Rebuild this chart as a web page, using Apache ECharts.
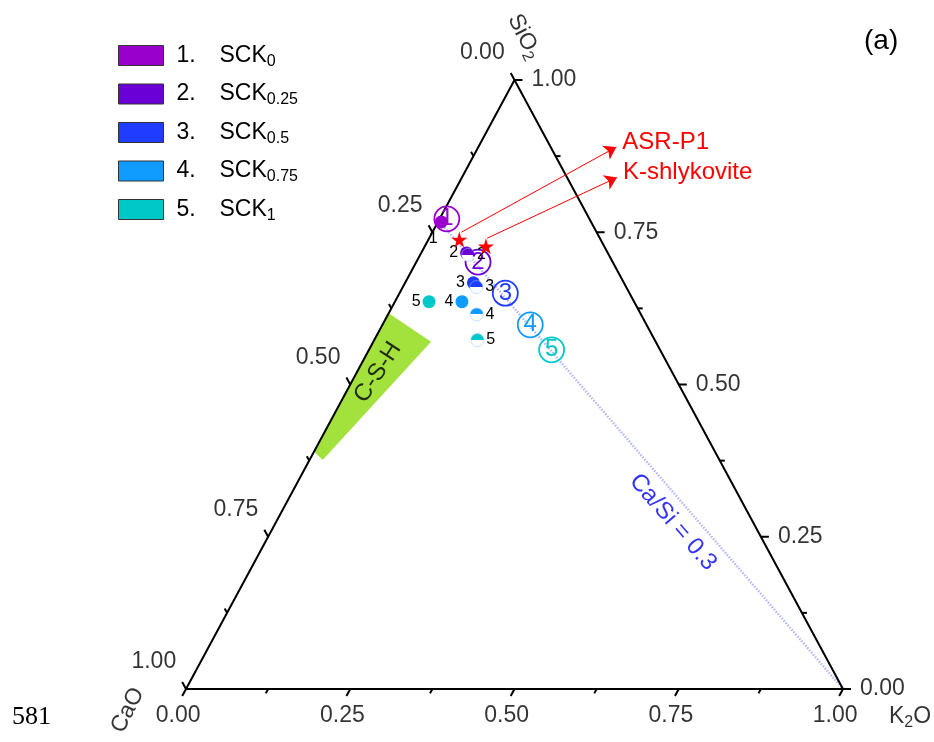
<!DOCTYPE html>
<html>
<head>
<meta charset="utf-8">
<script src="https://cdn.jsdelivr.net/npm/echarts@6/dist/echarts.min.js"></script>
<style>
    html, body { margin: 0; padding: 0; background: #fff; }
    #chart { width: 934px; height: 742px; }
</style>
</head>
<body>
<div id="chart"></div>
<script>
// all ternary points are [CaO, SiO2, K2O]
const sampleNames = ['SCK0', 'SCK0.25', 'SCK0.5', 'SCK0.75', 'SCK1'];
const sampleSubs = ['0', '0.25', '0.5', '0.75', '1'];
const sampleColors = ['#9900cc', '#6a00d6', '#1f3cff', '#0f9bff', '#00c8c8'];

const solidPoints = [
    [0.228, 0.767, 0.005],
    [0.215, 0.716, 0.069],
    [0.229, 0.667, 0.104],
    [0.262, 0.636, 0.102],
    [0.312, 0.636, 0.052]
];
const halfPoints = [
    null,
    [0.214, 0.713, 0.073],
    [0.228, 0.660, 0.112],
    [0.250, 0.615, 0.135],
    [0.270, 0.573, 0.157]
];
const circledPoints = [
    [0.217, 0.772, 0.011],
    [0.205, 0.701, 0.094],
    [0.189, 0.650, 0.161],
    [0.177, 0.598, 0.225],
    [0.165, 0.557, 0.278]
];

const refNames = ['ASR-P1', 'K-shlykovite'];
const refPoints = [[0.215, 0.738, 0.047], [0.180, 0.727, 0.093]];
const arrowStarts = [[0.206, 0.750, 0.044], [0.172, 0.740, 0.088]];
const arrowTips = [[-0.100, 0.890, 0.210], [-0.076, 0.840, 0.236]];

const caSiLine = [[0.231, 0.769, 0], [0, 0, 1]];
const cshPolygon = [[0.383, 0.617, 0], [0.342, 0.570, 0.088], [0.604, 0.376, 0.020], [0.610, 0.390, 0]];

const tickValues = [0, 0.25, 0.5, 0.75, 1];
const minorTickValues = [0.125, 0.375, 0.625, 0.875];

const FONT = 'Liberation Sans, Arial, sans-serif';

// ternary -> cartesian data coords (base = K2O axis, height = SiO2)
function tern(p) {
    return [p[2] + p[1] / 2, p[1]];
}

// tick segments, lengths in data units
const tMaj = 0.0116, tMin = 0.0072, rMaj = 0.0122, rMin = 0.0076;
const tickSegs = [];
const bottomEnds = [], rightEnds = [], leftEnds = [];
tickValues.concat(minorTickValues).forEach(function (v) {
    const major = tickValues.indexOf(v) >= 0;
    const t = major ? tMaj : tMin;
    const r = major ? rMaj : rMin;
    // K2O (bottom)
    tickSegs.push([v, 0, v - t / 2, -t]);
    // SiO2 (right)
    tickSegs.push([1 - v / 2, v, 1 - v / 2 + r, v]);
    // CaO (left)
    tickSegs.push([(1 - v) / 2, 1 - v, (1 - v) / 2 - t / 2, 1 - v + t]);
    if (major) {
        bottomEnds.push({ value: [v - t / 2, -t], txt: v.toFixed(2) });
        rightEnds.push({ value: [1 - v / 2 + r, v], txt: v.toFixed(2) });
        leftEnds.push({ value: [(1 - v) / 2 - t / 2, 1 - v + t], txt: v.toFixed(2) });
    }
});

const myChart = echarts.init(document.getElementById('chart'));

function halfFill(c) {
    return new echarts.graphic.LinearGradient(0, 0, 0, 1, [
        { offset: 0, color: c },
        { offset: 0.5, color: c },
        { offset: 0.5, color: '#fff' },
        { offset: 1, color: '#fff' }
    ]);
}

const smallLabel = { color: '#000', fontSize: 16, fontFamily: FONT };

const sampleSeries = sampleNames.map(function (name, i) {
    const col = sampleColors[i];
    const items = [];
    items.push({
        value: tern(circledPoints[i]),
        symbol: 'circle',
        symbolSize: 25,
        itemStyle: { color: 'rgba(255,255,255,0)', borderColor: col, borderWidth: 1.8, opacity: 1 },
        label: {
            show: true, position: 'inside', formatter: String(i + 1),
            color: col, fontSize: 24, fontFamily: FONT
        }
    });
    items.push({
        value: tern(solidPoints[i]),
        symbol: 'circle',
        symbolSize: 13,
        itemStyle: { color: col, opacity: 1 },
        label: i === 0 ? Object.assign({
            show: true, position: 'bottom', distance: 2, offset: [-8, 0], formatter: '1'
        }, smallLabel) : Object.assign({
            show: true, position: 'left', distance: 2, formatter: String(i + 1)
        }, smallLabel)
    });
    if (halfPoints[i]) {
        items.push({
            value: tern(halfPoints[i]),
            symbol: 'circle',
            symbolSize: 13,
            itemStyle: { color: halfFill(col), borderColor: 'rgba(150,200,255,0.9)', borderWidth: 0.6, opacity: 1 },
            label: Object.assign({
                show: true, position: 'right', distance: 2, formatter: String(i + 1)
            }, smallLabel)
        });
    }
    return {
        name: name,
        type: 'scatter',
        clip: false,
        silent: true,
        z: 5,
        itemStyle: { color: col, opacity: 1 },
        data: items
    };
});

const option = {
    animation: false,
    backgroundColor: '#fff',
    grid: { left: 186, right: 91, top: 80, bottom: 53 },
    xAxis: { type: 'value', min: 0, max: 1, show: false },
    yAxis: { type: 'value', min: 0, max: 1, show: false },
    legend: {
        orient: 'vertical',
        left: 113,
        top: 39,
        itemWidth: 45,
        itemHeight: 20,
        itemGap: 13,
        icon: 'rect',
        selectedMode: false,
        data: sampleNames,
        itemStyle: { borderColor: '#333', borderWidth: 1, opacity: 1 },
        formatter: function (name) {
            const i = sampleNames.indexOf(name);
            return '{n|' + (i + 1) + '.}{b|SCK}{s|' + sampleSubs[i] + '}';
        },
        textStyle: {
            fontFamily: FONT,
            fontSize: 23,
            color: '#000',
            rich: {
                n: { fontSize: 23, fontFamily: FONT, width: 43, padding: [0, 0, 0, 8], lineHeight: 28 },
                b: { fontSize: 23, fontFamily: FONT, lineHeight: 28 },
                s: { fontSize: 16, fontFamily: FONT, lineHeight: 12, verticalAlign: 'bottom' }
            }
        }
    },
    graphic: [
        { type: 'text', left: 864, top: 27, style: { text: '(a)', fontSize: 28, fontFamily: FONT, fill: '#000' } },
        { type: 'text', left: 12, top: 704, style: { text: '581', fontSize: 26, fontFamily: 'Liberation Serif, Times New Roman, serif', fill: '#000' } }
    ],
    series: [
        {
            // C-S-H region
            type: 'custom',
            silent: true,
            z: 1,
            data: cshPolygon.map(tern),
            renderItem: function (params, api) {
                if (params.dataIndex !== 0) return null;
                const pts = cshPolygon.map(function (p) { return api.coord(tern(p)); });
                return { type: 'polygon', shape: { points: pts }, style: { fill: '#a3e23c' } };
            }
        },
        {
            // triangle frame
            type: 'line',
            clip: false,
            silent: true,
            symbol: 'none',
            z: 3,
            lineStyle: { color: '#000', width: 2 },
            data: [tern([1, 0, 0]), tern([0, 0, 1]), tern([0, 1, 0]), tern([1, 0, 0])]
        },
        {
            // ticks
            type: 'custom',
            silent: true,
            z: 3,
            data: tickSegs,
            renderItem: function (params, api) {
                const a = api.coord([api.value(0), api.value(1)]);
                const b = api.coord([api.value(2), api.value(3)]);
                return { type: 'line', shape: { x1: a[0], y1: a[1], x2: b[0], y2: b[1] }, style: { stroke: '#000', lineWidth: 2 } };
            }
        },
        {
            // Ca/Si = 0.3 line
            type: 'line',
            clip: false,
            silent: true,
            symbol: 'none',
            z: 2,
            lineStyle: { color: 'rgba(110,110,255,0.5)', width: 2.5, type: [1.5, 1.5] },
            data: caSiLine.map(tern)
        },
        {
            // tick labels bottom
            type: 'scatter', clip: false, silent: true, symbolSize: 0,
            data: bottomEnds,
            label: {
                show: true, position: 'bottom', distance: 8, offset: [-4, 0],
                formatter: function (p) { return p.data.txt; },
                fontSize: 23, fontFamily: FONT, color: '#000'
            }
        },
        {
            type: 'scatter', clip: false, silent: true, symbolSize: 0,
            data: rightEnds,
            label: {
                show: true, position: 'right', distance: 9,
                formatter: function (p) { return p.data.txt; },
                fontSize: 23, fontFamily: FONT, color: '#000'
            }
        },
        {
            type: 'scatter', clip: false, silent: true, symbolSize: 0,
            data: leftEnds,
            label: {
                show: true, position: 'left', distance: 6, offset: [0, -20],
                formatter: function (p) { return p.data.txt; },
                fontSize: 23, fontFamily: FONT, color: '#000'
            }
        },
        {
            // axis titles and annotations
            type: 'scatter', clip: false, silent: true, symbolSize: 0,
            label: { show: true, position: 'inside', fontFamily: FONT, color: '#000', fontSize: 23 },
            data: [
                {
                    value: tern([-0.050, 1.071, -0.021]),
                    label: {
                        rotate: -63, formatter: '{a|SiO}{s|2}',
                        rich: { a: { fontSize: 23, fontFamily: FONT, lineHeight: 28 }, s: { fontSize: 16, fontFamily: FONT, lineHeight: 12, verticalAlign: 'bottom' } }
                    }
                },
                {
                    value: tern([1.106, -0.035, -0.071]),
                    label: { rotate: 63, formatter: 'CaO' }
                },
                {
                    value: tern([-0.079, -0.046, 1.125]),
                    label: {
                        formatter: '{a|K}{s|2}{a|O}',
                        rich: { a: { fontSize: 23, fontFamily: FONT, lineHeight: 28 }, s: { fontSize: 16, fontFamily: FONT, lineHeight: 12, verticalAlign: 'bottom' } }
                    }
                },
                {
                    value: tern([0.448, 0.520, 0.032]),
                    label: { rotate: 57, formatter: 'C-S-H', fontSize: 24 }
                },
                {
                    value: tern([0.122, 0.274, 0.604]),
                    label: { rotate: -49, formatter: 'Ca/Si = 0.3', fontSize: 24, color: '#0000ff' }
                }
            ]
        },
        {
            // arrows to reference phases
            type: 'lines',
            coordinateSystem: 'cartesian2d',
            silent: true,
            clip: false,
            z: 4,
            symbol: ['none', 'arrow'],
            symbolSize: 12,
            lineStyle: { color: '#ff0000', width: 1, opacity: 1 },
            data: arrowStarts.map(function (s, i) {
                return { coords: [tern(s), tern(arrowTips[i])] };
            })
        },
        {
            // reference stars
            type: 'scatter',
            clip: false,
            silent: true,
            z: 6,
            symbol: 'path://M50,0 L61,35 L98,35 L68,57 L79,91 L50,70 L21,91 L32,57 L2,35 L39,35 Z',
            symbolSize: 16,
            itemStyle: { color: '#ff0000', opacity: 1 },
            data: refPoints.map(tern)
        },
        {
            // reference labels
            type: 'scatter', clip: false, silent: true, symbolSize: 0,
            itemStyle: { opacity: 1 },
            data: arrowTips.map(function (p, i) { return { value: tern(p), name: refNames[i] }; }),
            label: {
                show: true, position: 'right', distance: 6, offset: [0, -5],
                formatter: function (p) { return refNames[p.dataIndex]; },
                fontSize: 24, fontFamily: FONT, color: '#ff0000'
            }
        }
    ].concat(sampleSeries)
};

myChart.setOption(option);
window.addEventListener('resize', myChart.resize);
</script>
</body>
</html>
